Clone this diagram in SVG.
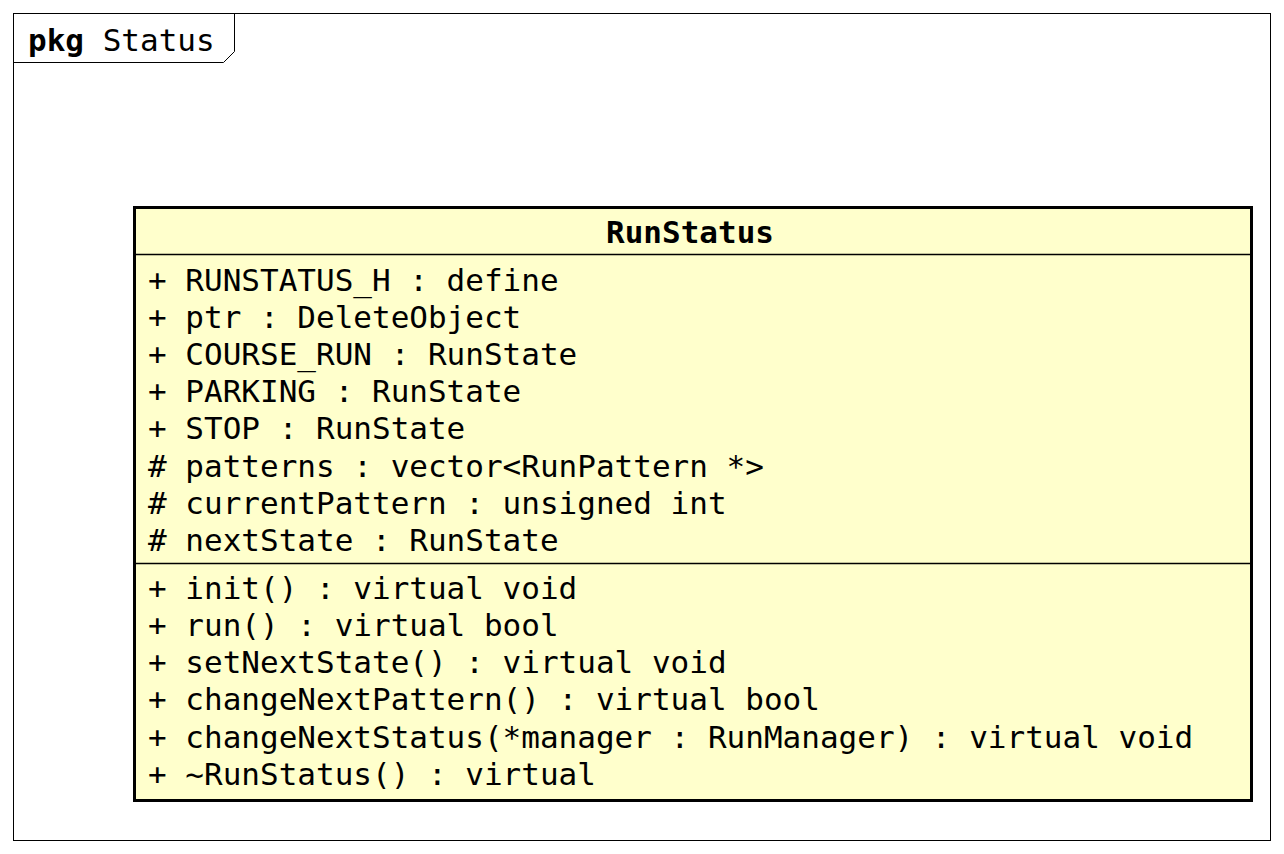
<svg xmlns="http://www.w3.org/2000/svg" width="1284" height="854" viewBox="0 0 1284 854">
<style>
.t{font-family:"DejaVu Sans Mono","Liberation Mono",monospace;font-size:31px;fill:#000}
.b{font-weight:bold}
</style>
<rect x="0" y="0" width="1284" height="854" fill="#fff"/>
<g id="pkg-status">
<rect x="13.5" y="13.5" width="1257" height="827" fill="none" stroke="#000" stroke-width="1"/>
<polyline points="13.5,62.5 223.5,62.5 234.5,51.5 234.5,13.5" fill="none" stroke="#000" stroke-width="1"/>
<text class="t" x="28" y="51"><tspan class="b">pkg</tspan> Status</text>
</g>
<g id="RunStatus">
<rect x="134.5" y="207.5" width="1117" height="593" fill="#FFFFCC" stroke="#000" stroke-width="3"/>
<line x1="134.5" y1="254.5" x2="1251.5" y2="254.5" stroke="#000" stroke-width="1.5"/>
<line x1="134.5" y1="563.5" x2="1251.5" y2="563.5" stroke="#000" stroke-width="1.5"/>
<text class="t b" x="690" y="243" text-anchor="middle">RunStatus</text>
<text class="t" x="148" y="290.5">+ RUNSTATUS_H : define</text>
<text class="t" x="148" y="327.7">+ ptr : DeleteObject</text>
<text class="t" x="148" y="364.9">+ COURSE_RUN : RunState</text>
<text class="t" x="148" y="402.1">+ PARKING : RunState</text>
<text class="t" x="148" y="439.3">+ STOP : RunState</text>
<text class="t" x="148" y="476.5"># patterns : vector&lt;RunPattern *&gt;</text>
<text class="t" x="148" y="513.7"># currentPattern : unsigned int</text>
<text class="t" x="148" y="550.9"># nextState : RunState</text>
<text class="t" x="148" y="598.5">+ init() : virtual void</text>
<text class="t" x="148" y="635.8">+ run() : virtual bool</text>
<text class="t" x="148" y="673.1">+ setNextState() : virtual void</text>
<text class="t" x="148" y="710.4">+ changeNextPattern() : virtual bool</text>
<text class="t" x="148" y="747.7">+ changeNextStatus(*manager : RunManager) : virtual void</text>
<text class="t" x="148" y="785">+ ~RunStatus() : virtual</text>
</g>
<g id="connectors"/>
</svg>
